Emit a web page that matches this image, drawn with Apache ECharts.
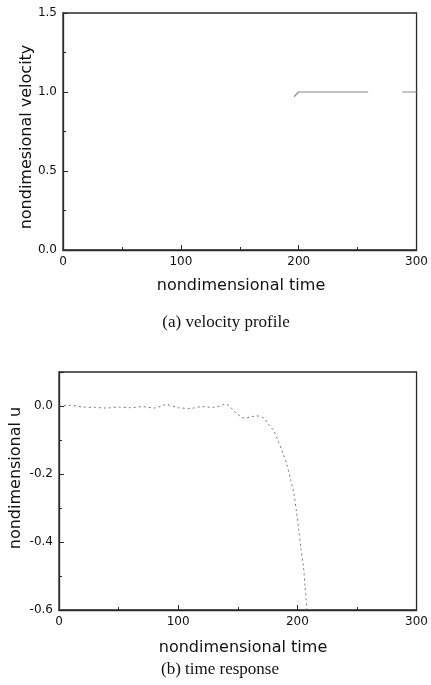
<!DOCTYPE html>
<html>
<head>
<meta charset="utf-8">
<script src="https://cdn.jsdelivr.net/npm/echarts@6/dist/echarts.min.js"></script>
<style>
html,body{margin:0;padding:0;background:#fff;}
#c{width:431px;height:685px;}
</style>
</head>
<body>
<div id="c"></div>
<script>
// (a) velocity profile — only the visible part of the trace
const velTime = [196, 200, 230, 259, 274, 288, 300];
const velValue = [0.97, 1.0, 1.0, 1.0, null, 1.0, 1.0];
const velTicks = [0, 0.5, 1.0, 1.5];

// (b) time response
const respTime = [0, 10, 20, 30, 40, 50, 60, 70, 80, 90, 100, 110, 120, 130, 140, 149, 156, 162, 166, 172, 176, 180, 184, 188, 191, 194, 197, 199.5, 201, 203, 205, 206.5, 208];
const respU = [0, 0.002, -0.003, -0.004, -0.006, -0.003, -0.005, -0.002, -0.006, 0.004, -0.005, -0.007, -0.002, -0.004, 0.005, -0.022, -0.036, -0.031, -0.029, -0.036, -0.055, -0.072, -0.104, -0.14, -0.17, -0.212, -0.256, -0.318, -0.36, -0.42, -0.47, -0.53, -0.6];
const respTicks = [-0.6, -0.4, -0.2, 0.0];
const timeTicks = [0, 100, 200, 300];

const sans = 'DejaVu Sans';
const axisCol = '#2a2a2a';

function xAx(gi) {
  return {
    type: 'value', gridIndex: gi, min: 0, max: 300, interval: 100,
    axisLine: {show: true, onZero: false, lineStyle: {color: axisCol, width: 1.3}},
    axisTick: {show: true, inside: true, length: 5, lineStyle: {color: axisCol}},
    minorTick: {show: true, splitNumber: 2, length: 3, lineStyle: {color: axisCol}},
    splitLine: {show: false},
    axisLabel: {fontFamily: sans, fontSize: 12, color: '#111', margin: 6,
      formatter: v => timeTicks.includes(v) ? String(v) : ''}
  };
}

const velData = velTime.map((t, i) => [t, velValue[i] === null ? '-' : velValue[i]]);
const respData = respTime.map((t, i) => [t, respU[i]]);

const option = {
  animation: false,
  backgroundColor: '#fff',
  grid: [
    {left: 63, right: 12, top: 13, height: 237, show: true, borderColor: axisCol, borderWidth: 1.3},
    {left: 59, right: 7, top: 372, height: 238, show: true, borderColor: axisCol, borderWidth: 1.3}
  ],
  xAxis: [xAx(0), xAx(1)],
  yAxis: [
    {
      type: 'value', gridIndex: 0, min: 0, max: 1.5, interval: 0.5,
      axisLine: {show: true, lineStyle: {color: axisCol, width: 1.3}},
      axisTick: {show: true, inside: true, length: 5, lineStyle: {color: axisCol}},
      minorTick: {show: true, splitNumber: 2, length: 3, lineStyle: {color: axisCol}},
      splitLine: {show: false},
      axisLabel: {fontFamily: sans, fontSize: 12, color: '#111', margin: 6,
        formatter: v => velTicks.some(t => Math.abs(t - v) < 1e-9) ? v.toFixed(1) : ''}
    },
    {
      type: 'value', gridIndex: 1, min: -0.6, max: 0.1, interval: 0.2,
      axisLine: {show: true, lineStyle: {color: axisCol, width: 1.3}},
      axisTick: {show: true, inside: true, length: 5, lineStyle: {color: axisCol}},
      minorTick: {show: true, splitNumber: 2, length: 3, lineStyle: {color: axisCol}},
      splitLine: {show: false},
      axisLabel: {fontFamily: sans, fontSize: 12, color: '#111', margin: 6,
        formatter: v => respTicks.some(t => Math.abs(t - v) < 1e-9) ? v.toFixed(1) : ''}
    }
  ],
  series: [
    {
      type: 'line', xAxisIndex: 0, yAxisIndex: 0, data: velData,
      showSymbol: false, connectNulls: false,
      lineStyle: {color: '#8a8a8a', width: 1.2}
    },
    {
      type: 'line', xAxisIndex: 1, yAxisIndex: 1, data: respData,
      showSymbol: false, smooth: 0.3,
      lineStyle: {color: '#777', width: 1, type: [2, 3]}
    }
  ],
  graphic: [
    {type: 'text', x: 27, y: 137, rotation: Math.PI / 2, style: {text: 'nondimesional velocity', font: '16px "DejaVu Sans"', fill: '#111', textAlign: 'center', textVerticalAlign: 'middle'}},
    {type: 'text', x: 241, y: 286, style: {text: 'nondimensional time', font: '16px "DejaVu Sans"', fill: '#111', textAlign: 'center', textVerticalAlign: 'middle'}},
    {type: 'text', x: 226, y: 323, style: {text: '(a) velocity profile', font: '17px "Liberation Serif"', fill: '#111', textAlign: 'center', textVerticalAlign: 'middle'}},
    {type: 'text', x: 16, y: 478, rotation: Math.PI / 2, style: {text: 'nondimensional u', font: '16px "DejaVu Sans"', fill: '#111', textAlign: 'center', textVerticalAlign: 'middle'}},
    {type: 'text', x: 243, y: 648, style: {text: 'nondimensional time', font: '16px "DejaVu Sans"', fill: '#111', textAlign: 'center', textVerticalAlign: 'middle'}},
    {type: 'text', x: 220, y: 670, style: {text: '(b) time response', font: '17px "Liberation Serif"', fill: '#111', textAlign: 'center', textVerticalAlign: 'middle'}}
  ]
};

const chart = echarts.init(document.getElementById('c'), null, {renderer: 'canvas'});
chart.setOption(option);
</script>
</body>
</html>
